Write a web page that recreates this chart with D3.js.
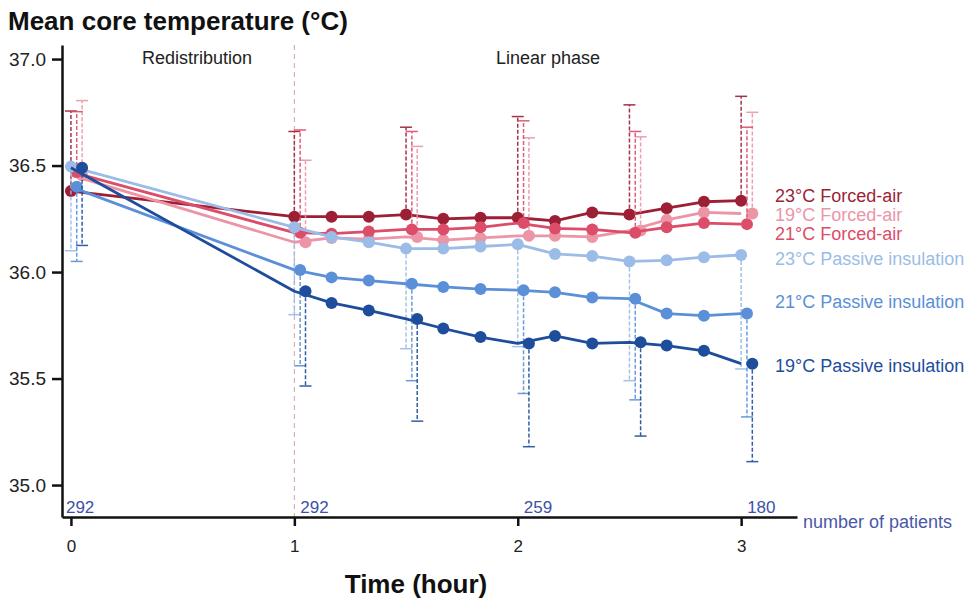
<!DOCTYPE html>
<html>
<head>
<meta charset="utf-8">
<script src="https://cdn.jsdelivr.net/npm/d3@7"></script>
<style>
body { margin: 0; background: #fff; }
svg { display: block; font-family: 'Liberation Sans', Arial, sans-serif; }
</style>
</head>
<body>
<svg id="chart"></svg>
<script>
// time points (minutes after induction), error bars only at every half hour
const minutes = [0, 60, 70, 80, 90, 100, 110, 120, 130, 140, 150, 160, 170, 180];
const errMinutes = [0, 60, 90, 120, 150, 180];

const seriesNames = ['23°C Forced-air', '19°C Forced-air', '21°C Forced-air',
    '23°C Passive insulation', '21°C Passive insulation', '19°C Passive insulation'];

const forcedAir23 = [36.38, 36.26, 36.26, 36.26, 36.27, 36.25, 36.255, 36.255, 36.24, 36.28, 36.27, 36.30, 36.33, 36.335];
const forcedAir19 = [36.455, 36.14, 36.16, 36.155, 36.165, 36.15, 36.16, 36.17, 36.17, 36.165, 36.195, 36.245, 36.28, 36.275];
const forcedAir21 = [36.47, 36.185, 36.18, 36.19, 36.20, 36.20, 36.21, 36.23, 36.205, 36.20, 36.185, 36.21, 36.23, 36.225];
const passive23 = [36.495, 36.21, 36.165, 36.14, 36.11, 36.11, 36.12, 36.13, 36.085, 36.075, 36.05, 36.055, 36.07, 36.08];
const passive21 = [36.40, 36.01, 35.975, 35.96, 35.945, 35.93, 35.92, 35.915, 35.905, 35.88, 35.875, 35.805, 35.795, 35.805];
const passive19 = [36.49, 35.91, 35.855, 35.82, 35.78, 35.735, 35.695, 35.665, 35.70, 35.665, 35.67, 35.655, 35.63, 35.57];

// one sided SD bars: upper for forced-air, lower for passive insulation
const forcedAir23Upper = [36.756, 36.66, 36.68, 36.73, 36.785, 36.825];
const forcedAir19Upper = [36.805, 36.525, 36.59, 36.63, 36.635, 36.75];
const forcedAir21Upper = [36.753, 36.667, 36.66, 36.71, 36.66, 36.68];
const passive23Lower = [36.10, 35.80, 35.64, 35.65, 35.49, 35.545];
const passive21Lower = [36.05, 35.56, 35.49, 35.43, 35.40, 35.32];
const passive19Lower = [36.125, 35.465, 35.30, 35.18, 35.23, 35.11];

const labelValues = [36.357, 36.268, 36.178, 36.061, 35.859, 35.559];

const patientHours = [0, 1, 2, 3];
const patientCounts = [292, 292, 259, 180];

const yTicks = [35.0, 35.5, 36.0, 36.5, 37.0];
const xTicks = [0, 1, 2, 3];

const width = 968;
const height = 601;

const series = [
    {name: seriesNames[0], values: forcedAir23, bound: forcedAir23Upper, color: '#9c1f36', dodge: 0, label: labelValues[0]},
    {name: seriesNames[1], values: forcedAir19, bound: forcedAir19Upper, color: '#ec95a6', dodge: 0.05, label: labelValues[1]},
    {name: seriesNames[2], values: forcedAir21, bound: forcedAir21Upper, color: '#dc4d69', dodge: 0.026, label: labelValues[2]},
    {name: seriesNames[3], values: passive23, bound: passive23Lower, color: '#9bbce6', dodge: 0, label: labelValues[3]},
    {name: seriesNames[4], values: passive21, bound: passive21Lower, color: '#5b90d8', dodge: 0.026, label: labelValues[4]},
    {name: seriesNames[5], values: passive19, bound: passive19Lower, color: '#1e4d9c', dodge: 0.05, label: labelValues[5]}
];

const x = d3.scaleLinear()
    .domain([-0.04, 3.25])
    .range([62, 797]);

const y = d3.scaleLinear()
    .domain([34.85, 37.066])
    .range([517, 45]);

const chart = d3.select('#chart')
    .attr('width', width)
    .attr('height', height);

chart.append('rect')
    .attr('width', width)
    .attr('height', height)
    .attr('fill', '#fff');

// title
chart.append('text')
    .attr('x', 8)
    .attr('y', 30)
    .attr('font-size', 26)
    .attr('font-weight', 'bold')
    .attr('fill', '#111')
    .text('Mean core temperature (°C)');

// phase divider
chart.append('line')
    .attr('x1', x(1))
    .attr('x2', x(1))
    .attr('y1', 45)
    .attr('y2', 517)
    .attr('stroke', '#c9a3a3')
    .attr('stroke-width', 1)
    .attr('stroke-dasharray', '5,4');

chart.append('text')
    .attr('x', 197)
    .attr('y', 64)
    .attr('text-anchor', 'middle')
    .attr('font-size', 18)
    .attr('fill', '#222')
    .text('Redistribution');

chart.append('text')
    .attr('x', 548)
    .attr('y', 64)
    .attr('text-anchor', 'middle')
    .attr('font-size', 18)
    .attr('fill', '#222')
    .text('Linear phase');

// axes
const yAxis = chart.append('g')
    .attr('transform', 'translate(62,0)')
    .call(d3.axisLeft(y)
        .tickValues(yTicks)
        .tickFormat(d3.format('.1f'))
        .tickSize(10)
        .tickSizeOuter(0)
        .tickPadding(6));

yAxis.selectAll('text')
    .attr('font-size', 19)
    .attr('font-family', null)
    .attr('fill', '#222');

const xAxis = chart.append('g')
    .attr('transform', 'translate(0,517)')
    .call(d3.axisBottom(x)
        .tickValues(xTicks)
        .tickFormat(d3.format('d'))
        .tickSize(9)
        .tickSizeOuter(0)
        .tickPadding(14));

xAxis.selectAll('text')
    .attr('font-size', 17)
    .attr('font-family', null)
    .attr('fill', '#222');

chart.selectAll('.domain, .tick line')
    .attr('stroke', '#111')
    .attr('stroke-width', 2.5);

chart.append('text')
    .attr('x', 416)
    .attr('y', 593)
    .attr('text-anchor', 'middle')
    .attr('font-size', 26)
    .attr('font-weight', 'bold')
    .attr('fill', '#111')
    .text('Time (hour)');

// number of patients along the x axis
chart.append('g')
    .selectAll('text')
    .data(patientHours)
    .enter()
    .append('text')
    .attr('x', function(hour) {
        // the first count sits tight against the y axis
        return hour === 0 ? x(hour) - 5 : x(hour) + 6;
    })
    .attr('y', 513)
    .attr('font-size', 17)
    .attr('fill', '#4050a8')
    .text(function(hour, index) {
        return patientCounts[index];
    });

chart.append('text')
    .attr('x', 803)
    .attr('y', 528)
    .attr('font-size', 18)
    .attr('fill', '#4b57a8')
    .text('number of patients');

function pointX(s, minute) {
    const hour = minute / 60;
    if (errMinutes.indexOf(minute) >= 0) {
        return x(hour + s.dodge);
    }
    return x(hour);
}

const line = d3.line()
    .x(function(d) { return x(d.minute / 60); })
    .y(function(d) { return y(d.value); });

const groups = chart.append('g')
    .selectAll('g')
    .data(series)
    .enter()
    .append('g');

groups.append('path')
    .attr('fill', 'none')
    .attr('stroke', function(s) { return s.color; })
    .attr('stroke-width', 2.8)
    .attr('stroke-linejoin', 'round')
    .attr('d', function(s) {
        return line(s.values.map(function(value, index) {
            return {minute: minutes[index], value: value};
        }));
    });

// error bars
const bars = groups.selectAll('g.err')
    .data(function(s) {
        return errMinutes.map(function(minute, index) {
            return {
                s: s,
                x: pointX(s, minute),
                value: s.values[minutes.indexOf(minute)],
                bound: s.bound[index]
            };
        });
    })
    .enter()
    .append('g')
    .attr('class', 'err')
    .attr('stroke', function(d) { return d.s.color; })
    .attr('stroke-width', 1.5)
    .attr('opacity', 0.9);

bars.append('line')
    .attr('x1', function(d) { return d.x; })
    .attr('x2', function(d) { return d.x; })
    .attr('y1', function(d) { return y(d.value); })
    .attr('y2', function(d) { return y(d.bound); })
    .attr('stroke-dasharray', '4,2');

bars.append('line')
    .attr('x1', function(d) { return d.x - 6; })
    .attr('x2', function(d) { return d.x + 6; })
    .attr('y1', function(d) { return y(d.bound); })
    .attr('y2', function(d) { return y(d.bound); });

groups.selectAll('circle')
    .data(function(s) {
        return s.values.map(function(value, index) {
            return {s: s, minute: minutes[index], value: value};
        });
    })
    .enter()
    .append('circle')
    .attr('cx', function(d) { return pointX(d.s, d.minute); })
    .attr('cy', function(d) { return y(d.value); })
    .attr('r', 6)
    .attr('fill', function(d) { return d.s.color; });

groups.append('text')
    .attr('x', 775)
    .attr('y', function(s) { return y(s.label); })
    .attr('dy', '.35em')
    .attr('font-size', 18)
    .attr('fill', function(s) { return s.color; })
    .text(function(s) { return s.name; });
</script>
</body>
</html>
